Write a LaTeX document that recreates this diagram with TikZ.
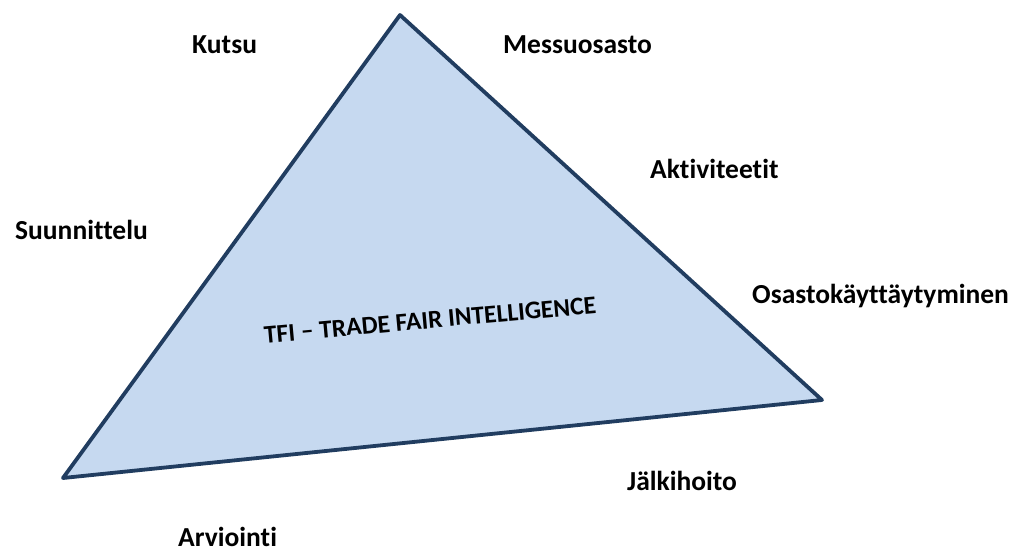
\documentclass[tikz,border=0pt]{standalone}
\usepackage{fontspec}
\setmainfont[Ligatures=NoCommon]{Carlito}

\definecolor{tfifill}{HTML}{C6D9F0}
\definecolor{tfiedge}{HTML}{213D60}

\tikzset{
  phase/.style={anchor=base west, inner sep=0pt, font=\bfseries\fontsize{27.5}{33}\selectfont},
  core/.style={inner sep=0pt, font=\bfseries\fontsize{25.5}{30}\selectfont}
}

\begin{document}
\begin{tikzpicture}[x=1pt,y=-1pt]
    \useasboundingbox (0,0) rectangle (1025,553);
    % Definitions:
    \coordinate (a) at (400,15);
    \coordinate (b) at (822,400);
    \coordinate (c) at (63,478);
    % Drawing:
    \draw[tfiedge, fill=tfifill, line width=3.8pt, line join=round] (a) -- (b) -- (c) -- cycle;
    \node[core, rotate=5.2] (tfi) at (430,320) {TFI -- TRADE FAIR INTELLIGENCE};
    % Labels:
    \node[phase] (kutsu) at (192,54) {Kutsu};
    \node[phase] (messu) at (503,54) {Messuosasto};
    \node[phase] (aktiv) at (650,179) {Aktiviteetit};
    \node[phase] (suunn) at (15,240) {Suunnittelu};
    \node[phase] (osasto) at (752,303) {Osastokäyttäytyminen};
    \node[phase] (jalki) at (627,490) {Jälkihoito};
    \node[phase] (arvio) at (178,546) {Arviointi};
  \end{tikzpicture}
\end{document}
